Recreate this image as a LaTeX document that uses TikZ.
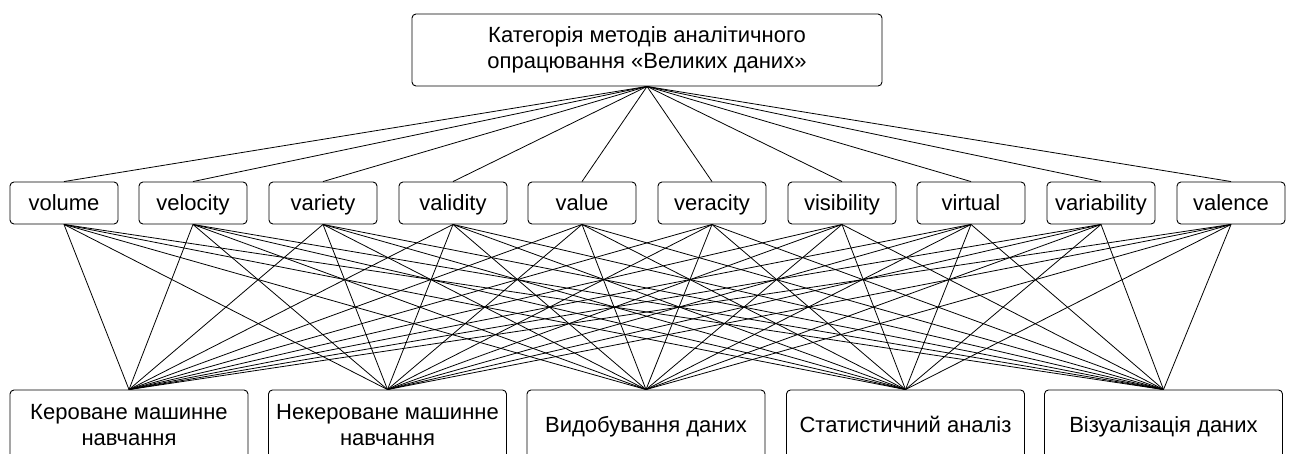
\documentclass[tikz,border=0pt]{standalone}
\usepackage{fontspec}
\setmainfont{Liberation Sans}
\begin{document}
\begin{tikzpicture}[x=1pt,y=-1pt,
  box/.style={draw, line width=0.9pt, rounded corners=4pt, align=center,
    inner sep=0pt, font=\fontsize{22}{26}\selectfont},
  oneline/.style={text height=15.8pt, text depth=0pt},
  topbox/.style={box, minimum width=470pt, minimum height=72pt},
  vbox/.style={box, oneline, minimum width=108pt, minimum height=42pt},
  mbox/.style={box, minimum width=238pt, minimum height=70pt},
  link/.style={line width=0.8pt}]
\useasboundingbox (0,0) rectangle (1291,453);
\clip (0,0) rectangle (1291,453);

% root category
\node[topbox] (root) at (647,50) {Категорія методів аналітичного\\опрацювання «Великих даних»};

% the ten V characteristics
\foreach \name/\x in {volume/64, velocity/193, variety/323, validity/453, value/582,
                      veracity/712, visibility/842, virtual/971, variability/1101, valence/1231}
  \node[vbox] (\name) at (\x,203) {\name};

% analysis methods
\node[mbox] (m1) at (129,425)            {Кероване машинне\\навчання};
\node[mbox] (m2) at (387.5,425)          {Некероване машинне\\навчання};
\node[mbox, oneline] (m3) at (646,425)    {Видобування даних};
\node[mbox, oneline] (m4) at (905.5,425)  {Статистичний аналіз};
\node[mbox, oneline] (m5) at (1163.5,425) {Візуалізація даних};

% connectors
\foreach \v in {volume,velocity,variety,validity,value,veracity,visibility,virtual,variability,valence}{
  \draw[link] (root.south) -- (\v.north);
  \foreach \m in {m1,m2,m3,m4,m5}
    \draw[link] (\v.south) -- (\m.north);
}
\end{tikzpicture}
\end{document}
